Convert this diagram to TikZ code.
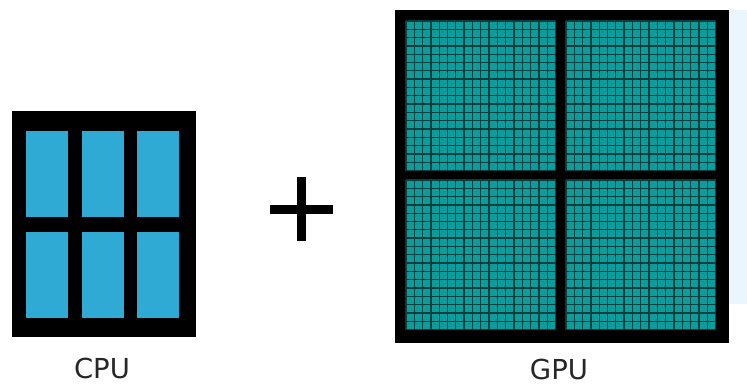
\documentclass[tikz,border=0pt]{standalone}
\usepackage{fontspec}
\setmainfont{DejaVu Sans}
\definecolor{cpublue}{RGB}{46,170,212}
\definecolor{gputeal}{RGB}{12,156,156}
\definecolor{gridline}{RGB}{8,62,62}
\definecolor{paleblue}{RGB}{234,246,254}
\tikzset{
  chip/.style={fill=black, draw=none},
  core/.style={fill=cpublue, draw=none},
  label/.style={font=\fontsize{27.5}{30}\selectfont, text=black!85, inner sep=0pt, anchor=base},
  plusbar/.style={fill=black, draw=none}
}
\begin{document}
\begin{tikzpicture}[x=1pt, y=-1pt]
\useasboundingbox (0,0) rectangle (747,383);
\fill[white] (0,0) rectangle (747,383);
% pale background at right edge
\fill[paleblue] (729,10) rectangle (747,304);
% CPU
\node[chip, minimum width=184pt, minimum height=226pt, inner sep=0pt] (cpu) at (104,224) {};
\foreach \cx in {26,82,137} {
  \foreach \cy in {131,232} {
    \fill[core] (\cx,\cy) rectangle ++(42,86);
  }
}
\node[label] (cpulabel) at (102,378) {CPU};
% plus
\fill[plusbar] (270,205) rectangle (333,214);
\fill[plusbar] (297,177) rectangle (306,241);
\coordinate (plus) at (301.5,209.5);
% GPU
\node[chip, minimum width=334pt, minimum height=333pt, inner sep=0pt] (gpu) at (562,176.5) {};
\foreach \qx/\qy in {406/21, 566/21, 406/180, 566/180} {
  \fill[gputeal] (\qx,\qy) rectangle ++(149.5,149.5);
  \foreach \i in {0,...,18} {
    \draw[gridline, line width=1.3pt] ({\qx+\i*149.5/18},\qy) -- ++(0,149.5);
    \draw[gridline, line width=1.3pt] (\qx,{\qy+\i*149.5/18}) -- ++(149.5,0);
  }
}
\node[label] (gpulabel) at (559,379) {GPU};
\end{tikzpicture}
\end{document}
